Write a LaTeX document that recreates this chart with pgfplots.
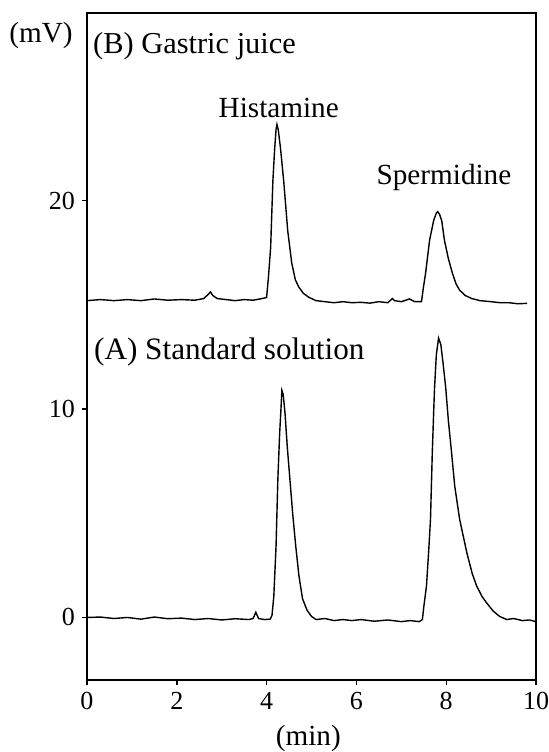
\documentclass[border=0pt]{standalone}
\usepackage{fontspec}
\setmainfont{Liberation Serif}
\usepackage{pgfplots}
\pgfplotsset{compat=1.18}
\begin{document}
\begin{tikzpicture}
\begin{axis}[
  scale only axis, width=224.5pt, height=333.5pt,
  xmin=0, xmax=10, ymin=-3, ymax=29,
  xtick={0,2,4,6,8,10}, ytick={0,10,20},
  xtick pos=left, ytick pos=left,
  tick align=outside, major tick length=2.5pt,
  axis line style={line width=0.9pt},
  tick style={line width=0.7pt, black},
  ticklabel style={font=\fontsize{13}{15}\selectfont},
  /pgf/number format/assume math mode=true,
  clip=false,
]
\addplot[black, line width=0.7pt] coordinates {
(0,0.0) (0.3,0.02) (0.6,-0.05) (0.9,0.0) (1.2,-0.08) (1.5,0.02) (1.8,-0.06) (2.1,-0.03) (2.4,-0.1) (2.7,-0.05) (3.0,-0.12) (3.3,-0.06) (3.6,-0.1) (3.7,-0.05) (3.76,0.25) (3.82,-0.05) (3.95,-0.1) (4.08,-0.08) (4.12,0.1) (4.16,1.0) (4.21,3.4) (4.25,6.6) (4.29,8.8) (4.32,10.0) (4.34,10.9) (4.37,10.7) (4.41,9.8) (4.46,8.2) (4.52,6.6) (4.58,5.0) (4.65,3.4) (4.72,2.0) (4.8,0.9) (4.9,0.35) (5.0,0.05) (5.1,-0.1) (5.3,-0.05) (5.5,-0.15) (5.7,-0.1) (5.9,-0.15) (6.1,-0.1) (6.4,-0.18) (6.7,-0.12) (7.0,-0.2) (7.2,-0.15) (7.4,-0.2) (7.47,-0.1) (7.5,0.5) (7.56,1.5) (7.61,3.2) (7.65,4.7) (7.69,7.9) (7.72,9.8) (7.74,11.0) (7.78,12.6) (7.83,13.4) (7.88,13.1) (7.93,12.2) (7.99,11.0) (8.05,9.4) (8.12,7.9) (8.19,6.3) (8.3,4.7) (8.46,3.1) (8.58,2.1) (8.68,1.5) (8.8,1.0) (8.9,0.7) (9.05,0.3) (9.19,0.05) (9.35,-0.1) (9.5,-0.05) (9.7,-0.15) (9.85,-0.12) (10,-0.2)
};
\addplot[black, line width=0.7pt] coordinates {
(0,15.2) (0.3,15.25) (0.6,15.2) (0.9,15.25) (1.2,15.2) (1.5,15.28) (1.8,15.22) (2.1,15.25) (2.4,15.22) (2.6,15.3) (2.7,15.5) (2.75,15.62) (2.8,15.45) (2.9,15.3) (3.1,15.25) (3.3,15.2) (3.5,15.25) (3.7,15.22) (3.9,15.3) (4.0,15.35) (4.04,16.3) (4.09,17.75) (4.14,20.96) (4.18,22.5) (4.21,23.4) (4.23,23.65) (4.26,23.4) (4.31,22.5) (4.38,20.96) (4.47,18.56) (4.56,17.0) (4.64,16.2) (4.72,15.84) (4.82,15.55) (4.94,15.36) (5.1,15.2) (5.3,15.15) (5.5,15.1) (5.7,15.15) (5.9,15.1) (6.1,15.12) (6.3,15.08) (6.5,15.15) (6.7,15.1) (6.8,15.3) (6.85,15.2) (7.0,15.15) (7.18,15.28) (7.3,15.15) (7.45,15.15) (7.49,15.8) (7.54,16.5) (7.63,18.1) (7.72,19.04) (7.78,19.4) (7.81,19.47) (7.85,19.35) (7.9,19.04) (7.96,18.1) (8.05,17.2) (8.14,16.5) (8.22,16.0) (8.3,15.7) (8.42,15.45) (8.57,15.3) (8.75,15.2) (9.0,15.15) (9.2,15.1) (9.4,15.1) (9.6,15.05) (9.8,15.07)
};
\node[anchor=west, font=\fontsize{15.2}{18}\selectfont, inner sep=0pt] at (axis cs:0.13,27.4) {(B) Gastric juice};
\node[anchor=west, font=\fontsize{15.6}{18}\selectfont, inner sep=0pt] at (axis cs:0.15,12.75) {(A) Standard solution};
\node[font=\fontsize{14.6}{17}\selectfont, inner sep=0pt] at (axis cs:4.27,24.45) {Histamine};
\node[font=\fontsize{14.6}{17}\selectfont, inner sep=0pt] at (axis cs:7.95,21.1) {Spermidine};
\node[font=\fontsize{14.6}{17}\selectfont, inner sep=0pt] at (rel axis cs:0,1) [xshift=-23pt, yshift=-11pt] {(mV)};
\node[font=\fontsize{14.6}{17}\selectfont, inner sep=0pt] at (rel axis cs:0.493,0) [yshift=-29pt] {(min)};
\coordinate (sw) at (rel axis cs:0,0);
\coordinate (ne) at (rel axis cs:1,1);
\end{axis}
\pgfresetboundingbox
\path ([xshift=-43.5pt,yshift=-36pt]sw) rectangle ([xshift=6.5pt,yshift=6.5pt]ne);
\end{tikzpicture}
\end{document}
